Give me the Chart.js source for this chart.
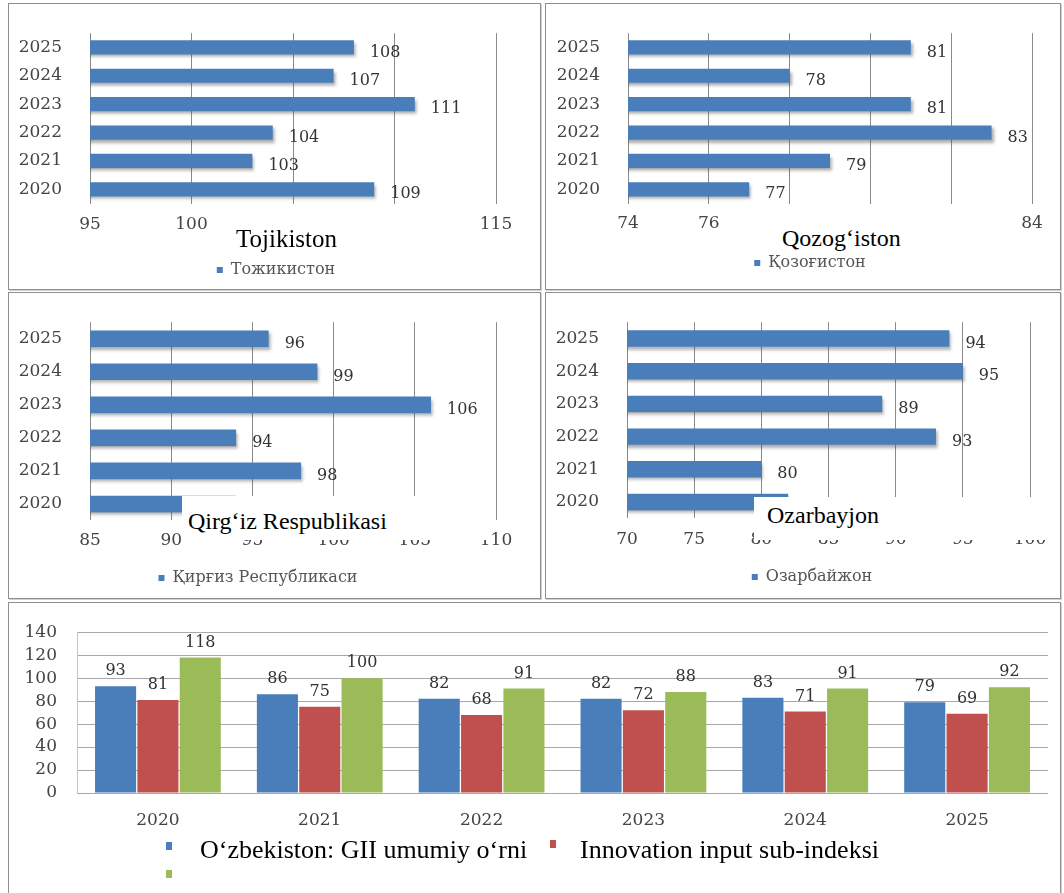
<!DOCTYPE html>
<html>
<head>
<meta charset="utf-8">
<script src="https://cdn.jsdelivr.net/npm/chart.js@4.4.1/dist/chart.umd.min.js"></script>
<style>
  html, body { margin: 0; padding: 0; background: #fff; }
  body { width: 1064px; height: 893px; position: relative; overflow: hidden; }
  .panel { position: absolute; box-sizing: border-box; border: 1px solid #8f8f8f; box-shadow: 1px 1px 0 #d0d0d0; }
  .chart { position: absolute; }
  .cover { position: absolute; background: #fff; }
  .caption { position: absolute; font-family: 'Liberation Serif', 'DejaVu Serif', serif; font-size: 24px; line-height: 1; color: #000; white-space: nowrap; }
  .mark { position: absolute; width: 6px; height: 8px; }
</style>
</head>
<body>

<div class="panel" style="left:8px;top:3px;width:533px;height:287px"></div>
<div class="panel" style="left:545px;top:3px;width:516px;height:287px"></div>
<div class="panel" style="left:8px;top:292px;width:533px;height:307px"></div>
<div class="panel" style="left:545px;top:292px;width:516px;height:307px"></div>
<div class="panel" style="left:8px;top:602px;width:1053px;height:300px"></div>

<div class="chart" style="left:8px;top:3px;width:533px;height:287px"><canvas id="tjk"></canvas></div>
<div class="chart" style="left:545px;top:3px;width:516px;height:287px"><canvas id="kaz"></canvas></div>
<div class="chart" style="left:8px;top:292px;width:533px;height:307px"><canvas id="kgz"></canvas></div>
<div class="chart" style="left:545px;top:292px;width:516px;height:307px"><canvas id="aze"></canvas></div>
<div class="chart" style="left:8px;top:602px;width:1053px;height:291px"><canvas id="uzb"></canvas></div>

<!-- белые плашки с подписями поверх диаграмм -->
<div class="cover" style="left:214px;top:213px;width:262px;height:38px"></div>
<div class="caption" id="capTjk" style="left:236px;top:226px;font-size:25px"></div>
<div class="cover" style="left:724px;top:212px;width:292px;height:40px"></div>
<div class="caption" id="capKaz" style="left:782px;top:226px"></div>
<div class="cover" style="left:182px;top:496px;width:304px;height:44px"></div>
<div class="caption" id="capKgz" style="left:188px;top:509px"></div>
<div class="cover" style="left:754px;top:497px;width:300px;height:43px"></div>
<div class="caption" id="capAze" style="left:767px;top:503px"></div>

<!-- легенда нижней диаграммы -->
<div class="mark" id="mk0" style="left:166px;top:842px"></div>
<div class="mark" id="mk1" style="left:550px;top:840px"></div>
<div class="mark" id="mk2" style="left:166px;top:870px"></div>
<div class="caption" id="lg0" style="left:200px;top:837px;font-size:26px"></div>
<div class="caption" id="lg1" style="left:580px;top:837px;font-size:26px"></div>

<script>
'use strict';

// годы (общая ось категорий)
const years = ['2020', '2021', '2022', '2023', '2024', '2025'];

// места стран по годам
const tajikValues = [109, 103, 104, 111, 107, 108];
const kazakhValues = [77, 79, 83, 81, 78, 81];
const kyrgyzValues = [94, 98, 94, 106, 99, 96];
const azerValues = [82, 80, 93, 89, 95, 94];

// Узбекистан: три показателя
const giiRank = [93, 86, 82, 82, 83, 79];
const inputRank = [81, 75, 68, 72, 71, 69];
const outputRank = [118, 100, 91, 88, 91, 92];

// деления осей
const tajikTicks = [95, 100, 105, 110, 115];
const kazakhTicks = [74, 76, 78, 80, 82, 84];
const kyrgyzTicks = [85, 90, 95, 100, 105, 110];
const azerTicks = [70, 75, 80, 85, 90, 95, 100];
const uzbTicks = [0, 20, 40, 60, 80, 100, 120, 140];

// подписи
const legendNames = ['Тожикистон', 'Қозоғистон', 'Қирғиз Республикаси', 'Озарбайжон'];
const captionNames = ['Tojikiston', 'Qozog‘iston', 'Qirg‘iz Respublikasi', 'Ozarbayjon'];
const seriesNames = ['O‘zbekiston: GII umumiy o‘rni', 'Innovation input sub-indeksi', 'Innovation output sub-indeksi'];

const blue = '#4a7ebb';
const seriesColors = ['#4a7ebb', '#c0504d', '#9bbb59'];
const tickFont = { family: 'DejaVu Serif', size: 17 };

// тень под полосами + значения у концов полос
const barDecor = {
  id: 'barDecor',
  beforeDatasetsDraw(chart, args, opts) {
    const ctx = chart.ctx;
    ctx.save();
    if (opts.shadow) {
      ctx.shadowColor = 'rgba(70,70,70,0.45)';
      ctx.shadowOffsetX = 2;
      ctx.shadowOffsetY = 3;
      ctx.shadowBlur = 3;
    }
  },
  afterDatasetsDraw(chart) {
    const ctx = chart.ctx;
    ctx.restore();
    ctx.save();
    ctx.font = '16px "DejaVu Serif"';
    ctx.fillStyle = '#333';
    ctx.textBaseline = 'middle';
    const horizontal = chart.options.indexAxis === 'y';
    chart.data.datasets.forEach((ds, i) => {
      chart.getDatasetMeta(i).data.forEach((bar, j) => {
        const txt = String(ds.data[j]);
        if (horizontal) {
          ctx.textAlign = 'left';
          ctx.fillText(txt, bar.x + 16, bar.y + 5);
        } else {
          ctx.textAlign = 'center';
          ctx.fillText(txt, bar.x, bar.y - 15);
        }
      });
    });
    ctx.restore();
  }
};

// сдвиг легенды вправо (легенда в оригинале не по центру)
const legendShift = {
  id: 'legendShift',
  afterLayout(chart, args, opts) {
    const lg = chart.legend;
    if (lg && opts.dx) {
      lg.left += opts.dx;
      lg.right += opts.dx;
    }
  }
};

function countryChart(id, name, values, ticks, box) {
  return new Chart(document.getElementById(id), {
    type: 'bar',
    data: {
      labels: years,
      datasets: [{
        label: name,
        data: values,
        backgroundColor: blue,
        barPercentage: 0.5,
        categoryPercentage: 1,
      }]
    },
    options: {
      indexAxis: 'y',
      responsive: true,
      maintainAspectRatio: false,
      animation: false,
      layout: { padding: { top: box.top, right: box.right, bottom: box.bottom, left: 0 } },
      scales: {
        x: {
          min: ticks[0],
          max: ticks[ticks.length - 1],
          ticks: { stepSize: ticks[1] - ticks[0], padding: box.tickPad, font: tickFont, color: '#444', autoSkip: false },
          grid: { color: '#8a8a8a', drawTicks: false },
          border: { display: false },
          afterFit: s => { s.height = box.axisH; },
        },
        y: {
          reverse: true,
          ticks: { padding: 20, font: tickFont, color: '#444', autoSkip: false },
          grid: { display: false },
          border: { display: false },
          afterFit: s => { s.width = box.left; },
        }
      },
      plugins: {
        legend: {
          position: 'bottom',
          labels: { boxWidth: 6, boxHeight: 6, padding: 10, color: '#555', font: { family: 'DejaVu Serif', size: 16 } }
        },
        tooltip: { enabled: false },
        barDecor: { shadow: true },
        legendShift: { dx: box.legendDx },
      },
    },
    plugins: [barDecor, legendShift],
  });
}

countryChart('tjk', legendNames[0], tajikValues, tajikTicks,
  { left: 82, legendDx: 24, top: 20.5, right: 45, bottom: 2, axisH: 48.5, tickPad: 10.5 });
countryChart('kaz', legendNames[1], kazakhValues, kazakhTicks,
  { left: 83, legendDx: 21.5, top: 20.5, right: 29, bottom: 9, axisH: 41.5, tickPad: 9.5 });
countryChart('kgz', legendNames[2], kyrgyzValues, kyrgyzTicks,
  { left: 82, legendDx: 6, top: 19.6, right: 45, bottom: 3, axisH: 39.6, tickPad: 9.5 });
countryChart('aze', legendNames[3], azerValues, azerTicks,
  { left: 82, legendDx: 24.5, top: 18.7, right: 31, bottom: 4, axisH: 40.7, tickPad: 11.5 });

// нижняя диаграмма: Узбекистан
const uzbSeries = [giiRank, inputRank, outputRank];
new Chart(document.getElementById('uzb'), {
  type: 'bar',
  data: {
    labels: years,
    datasets: uzbSeries.map((d, i) => ({
      label: seriesNames[i],
      data: d,
      backgroundColor: seriesColors[i],
      barPercentage: 0.97,
      categoryPercentage: 0.785,
    }))
  },
  options: {
    responsive: true,
    maintainAspectRatio: false,
    animation: false,
    layout: { padding: { top: 21.5, right: 13, bottom: 60, left: 0 } },
    scales: {
      x: {
        ticks: { padding: 9.5, font: tickFont, color: '#444', autoSkip: false },
        grid: { display: false },
        border: { display: false },
        afterFit: s => { s.height = 40; },
      },
      y: {
        min: uzbTicks[0],
        max: uzbTicks[uzbTicks.length - 1],
        ticks: { stepSize: uzbTicks[1] - uzbTicks[0], padding: 20, font: tickFont, color: '#444', autoSkip: false },
        grid: { color: '#a8a8a8', drawTicks: false },
        border: { display: true, color: '#c4c4c4' },
        afterFit: s => { s.width = 69; },
      }
    },
    plugins: {
      legend: { display: false },
      tooltip: { enabled: false },
      barDecor: { shadow: false },
    },
  },
  plugins: [barDecor],
});

// подписи поверх
['capTjk', 'capKaz', 'capKgz', 'capAze'].forEach((id, i) => {
  document.getElementById(id).textContent = captionNames[i];
});
seriesColors.forEach((c, i) => {
  document.getElementById('mk' + i).style.background = c;
});
document.getElementById('lg0').textContent = seriesNames[0];
document.getElementById('lg1').textContent = seriesNames[1];
</script>
</body>
</html>
